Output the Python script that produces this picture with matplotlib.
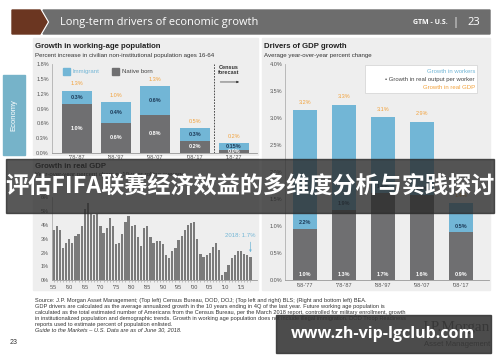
import numpy as np
import matplotlib.pyplot as plt
from matplotlib.patches import Rectangle, Polygon

plt.rcParams['font.family'] = ['Liberation Sans', 'DejaVu Sans']

W, H = 500, 362

# top left: growth in working-age population
popPeriods = ["'78-'87", "'88-'97", "'98-'07", "'08-'17", "'18-'27"]
popNative = [0.99, 0.61, 0.77, 0.24, 0.05]
popImmigrant = [0.27, 0.42, 0.59, 0.26, 0.15]
popNativeLbl = ["1.0%", "0.6%", "0.8%", "0.2%", "0.0%"]
popImmigrantLbl = ["0.3%", "0.4%", "0.6%", "0.3%", "0.15%"]
popTotalLbl = ["1.3%", "1.0%", "1.3%", "0.5%", "0.2%"]

# right: drivers of GDP growth
gdpPeriods = ["'68-'77", "'78-'87", "'88-'97", "'98-'07", "'08-'17"]
gdpOutput = [0.95, 1.30, 1.62, 1.58, 0.89]
gdpWorkers = [2.20, 1.95, 1.40, 1.35, 0.53]
gdpOutputLbl = ["1.0%", "1.3%", "1.7%", "1.6%", "0.9%"]
gdpWorkersLbl = ["2.2%", "1.9%", "1.4%", "1.3%", "0.5%"]
gdpTotalLbl = ["3.2%", "3.3%", "3.1%", "2.9%", "1.4%"]

# bottom left: annual series 1955-2018
years = np.arange(1955, 2019)
growth = [3.6, 3.9, 3.6, 2.3, 2.7, 3.0, 2.7, 3.2, 3.3, 3.9, 5.1, 5.6, 4.8, 4.7, 4.8,
          3.9, 3.4, 3.8, 4.5, 3.9, 2.6, 2.7, 3.3, 4.2, 4.6, 3.9, 4.0, 3.1, 2.5, 3.8,
          3.9, 3.1, 2.7, 2.8, 2.8, 2.6, 1.8, 1.6, 2.1, 2.3, 2.9, 3.2, 3.6, 4.0, 4.1,
          4.2, 3.0, 1.9, 1.7, 1.8, 2.0, 2.4, 2.7, 2.2, 0.4, 0.6, 1.1, 1.6, 1.8, 2.1,
          2.1, 1.9, 1.8, 1.7]
lastLbl = '2018: 1.7%'

blue = '#72b6d6'
grey = '#6f6f71'
orange = '#f2a23c'
navy = '#1d3b58'
panel = '#eeeeee'
tickc = '#555555'


def box(x0, y0, x1, y1):
    return [x0 / W, 1 - y1 / H, (x1 - x0) / W, (y1 - y0) / H]


def style(ax):
    ax.set_facecolor('none')
    for s in ['top', 'right']:
        ax.spines[s].set_visible(False)
    ax.spines['left'].set_color('#b0b0b0')
    ax.spines['bottom'].set_color('#999999')
    ax.spines['left'].set_linewidth(0.6)
    ax.spines['bottom'].set_linewidth(0.6)
    ax.tick_params(labelsize=4, colors=tickc, length=0, pad=2)


fig = plt.figure(figsize=(W / 100, H / 100), dpi=100)
fig.patch.set_facecolor('white')

bg = fig.add_axes([0, 0, 1, 1], zorder=0)
bg.set_xlim(0, W)
bg.set_ylim(H, 0)
bg.axis('off')

# header bar
bg.add_patch(Polygon([(12, 10), (40, 10), (47, 22), (40, 34), (12, 34)], color='#6b3621'))
bg.add_patch(Polygon([(43, 10), (490, 10), (490, 34), (43, 34), (50, 22)], color='#6d6d6d'))
bg.text(60, 22.5, 'Long-term drivers of economic growth', color='white', fontsize=7.9,
        family='Open Sans', va='center')
bg.text(448, 23, 'GTM - U.S.', color='white', fontsize=5, family='Open Sans',
        va='center', ha='right', weight='bold')
bg.text(455, 22.5, '|', color='white', fontsize=8, family='Open Sans', va='center', ha='center')
bg.text(480, 22.5, '23', color='white', fontsize=8, family='Open Sans', va='center', ha='right')

# side tab
bg.add_patch(Rectangle((3, 75), 22, 80, color='#76b3c9'))
bg.text(14, 115, 'Economy', color='white', fontsize=5.5, rotation=90, ha='center', va='center')

# panels
bg.add_patch(Rectangle((33, 38), 225, 117, color=panel))
bg.add_patch(Rectangle((262, 38), 228, 252, color=panel))
bg.add_patch(Rectangle((33, 158), 225, 132, color=panel))

bg.text(35, 47, 'Growth in working-age population', fontsize=5.6, weight='bold',
        color='#222222', va='center')
bg.text(35, 55.5, 'Percent increase in civilian non-institutional population ages 16-64',
        fontsize=4.4, color='#333333', va='center')
bg.text(264, 47, 'Drivers of GDP growth', fontsize=5.6, weight='bold', color='#222222', va='center')
bg.text(264, 55.5, 'Average year-over-year percent change', fontsize=4.4, color='#333333', va='center')
bg.text(35, 166, 'Growth in real GDP', fontsize=5.6, weight='bold', color='#222222', va='center')
bg.text(35, 174.5, 'Year-over-year percent change, 10-year rolling average', fontsize=4.4,
        color='#333333', va='center')

# footer
notes = [
    'Source: J.P. Morgan Asset Management; (Top left) Census Bureau, DOD, DOJ; (Top left and right) BLS; (Right and bottom left) BEA.',
    'GDP drivers are calculated as the average annualized growth in the 10 years ending in 4Q of the last year. Future working age population is',
    'calculated as the total estimated number of Americans from the Census Bureau, per the March 2018 report, controlled for military enrollment, growth',
    'in institutionalized population and demographic trends. Growth in working age population does not include illegal immigration. DOD Troop Readiness',
    'reports used to estimate percent of population enlisted.',
]
for i, line in enumerate(notes):
    bg.text(35, 300.5 + i * 5.9, line, fontsize=4.1, color='#333333', va='center')
bg.text(35, 300.5 + 5 * 5.9, 'Guide to the Markets \u2013 U.S. Data are as of June 30, 2018.',
        fontsize=4.1, color='#333333', va='center', style='italic')
bg.text(10, 342, '23', fontsize=5, color='#333333', va='center')
bg.text(490, 327, 'J.P.Morgan', fontsize=11, family='Liberation Serif', color='#555555',
        va='center', ha='right')
bg.text(490, 344, 'Asset Management', fontsize=5.5, color='#555555', va='center', ha='right')

# chart 1: working-age population
ax1 = fig.add_axes(box(51.7, 64.3, 257, 152.7), zorder=2)
style(ax1)
x1 = np.arange(len(popPeriods))
ax1.bar(x1, popNative, 0.76, color=grey)
ax1.bar(x1, popImmigrant, 0.76, bottom=popNative, color=blue)
for i in x1:
    tot = popNative[i] + popImmigrant[i]
    ax1.text(i, popNative[i] / 2, popNativeLbl[i], color='white', fontsize=4, weight='bold',
             ha='center', va='center')
    ax1.text(i, popNative[i] + popImmigrant[i] / 2, popImmigrantLbl[i], color=navy, fontsize=4,
             weight='bold', ha='center', va='center')
    ax1.text(i, tot + 0.14, popTotalLbl[i], color=orange, fontsize=4, ha='center', va='center')
ax1.set_xlim(-0.636, 4.585)
ax1.set_ylim(0, 1.8)
ax1.set_yticks(np.arange(0, 1.81, 0.3))
ax1.set_yticklabels(['%.1f%%' % v for v in np.arange(0, 1.81, 0.3)])
ax1.set_xticks(x1)
ax1.set_xticklabels(popPeriods)
ax1.axvline(3.5, color='#333333', lw=0.6, ls=(0, (2, 1.5)))
ax1.text(3.87, 1.68, 'Census\nforecast', fontsize=4, weight='bold', color='#333333',
         ha='center', va='center', linespacing=1.1)
ax1.annotate('', xy=(4.2, 1.44), xytext=(3.58, 1.44),
             arrowprops=dict(arrowstyle='-|>', color='#333333', lw=0.5, mutation_scale=3))
ax1.add_patch(Rectangle((-0.34, 1.59), 0.17, 0.135, color=blue))
ax1.text(-0.1, 1.66, 'Immigrant', fontsize=4.3, color=blue, va='center')
ax1.add_patch(Rectangle((0.9, 1.59), 0.17, 0.135, color=grey))
ax1.text(1.14, 1.66, 'Native born', fontsize=4.3, color='#444444', va='center')

# chart 2: drivers of GDP growth
ax2 = fig.add_axes(box(285, 64.3, 489, 280), zorder=2)
style(ax2)
x2 = np.arange(len(gdpPeriods))
ax2.bar(x2, gdpOutput, 0.63, color=grey)
ax2.bar(x2, gdpWorkers, 0.63, bottom=gdpOutput, color=blue)
for i in x2:
    tot = gdpOutput[i] + gdpWorkers[i]
    ax2.text(i, 0.11, gdpOutputLbl[i], color='white', fontsize=4, weight='bold',
             ha='center', va='center')
    ax2.text(i, gdpOutput[i] + 0.11, gdpWorkersLbl[i], color=navy, fontsize=4, weight='bold',
             ha='center', va='center')
    ax2.text(i, tot + 0.15, gdpTotalLbl[i], color=orange, fontsize=4, ha='center', va='center')
ax2.set_xlim(-0.512, 4.72)
ax2.set_ylim(0, 4.0)
ax2.set_yticks(np.arange(0, 4.01, 0.5))
ax2.set_yticklabels(['%.1f%%' % v for v in np.arange(0, 4.01, 0.5)])
ax2.set_xticks(x2)
ax2.set_xticklabels(gdpPeriods)
ax2.add_patch(Rectangle((1.54, 3.475), 2.86, 0.515, facecolor='white', edgecolor='#d8d8d8', lw=0.6))
ax2.text(4.36, 3.87, 'Growth in workers', fontsize=4.3, color=blue, ha='right', va='center')
ax2.text(4.36, 3.72, '\u2022 Growth in real output per worker', fontsize=4.3, color='#444444',
         ha='right', va='center')
ax2.text(4.36, 3.57, 'Growth in real GDP', fontsize=4.3, color=orange, ha='right', va='center')

# chart 3: annual bars
ax3 = fig.add_axes(box(51.7, 197, 257, 280.3), zorder=2)
style(ax3)
ax3.bar(years, growth, 0.72, color='#7b7b7b')
ax3.set_xlim(1954.4, 2020.1)
ax3.set_ylim(0, 6)
ax3.set_yticks(range(0, 7))
ax3.set_yticklabels(['%d%%' % v for v in range(0, 7)])
ax3.set_xticks(np.arange(1955, 2016, 5))
ax3.set_xticklabels(["'%02d" % (y % 100) for y in range(1955, 2016, 5)])
ax3.set_xticks(years, minor=True)
ax3.tick_params(axis='x', which='both', length=1.5, color='#999999', width=0.4)
ax3.text(years[-1] - 3.3, growth[-1] + 1.56, lastLbl, fontsize=4.3, color=blue,
         ha='center', va='center')
ax3.annotate('', xy=(years[-1], growth[-1] + 0.12), xytext=(years[-1], growth[-1] + 1.25),
             arrowprops=dict(arrowstyle='-|>', color=blue, lw=0.5, mutation_scale=3))

# overlays
ov = fig.add_axes([0, 0, 1, 1], zorder=10)
ov.set_xlim(0, W)
ov.set_ylim(H, 0)
ov.axis('off')
ov.add_patch(Rectangle((6, 159), 488, 54, color=(0.16, 0.16, 0.16), alpha=0.78))
ov.text(250, 186.5, '评估FIFA联赛经济效益的多维度分析与实践探讨', color='white', fontsize=16.7,
        weight='bold', ha='center', va='center', family=['Noto Sans CJK SC', 'DejaVu Sans'])
ov.add_patch(Rectangle((276, 315), 215, 37.5, color=(0.2, 0.2, 0.2), alpha=0.88))
ov.text(383, 334, 'www.zh-vip-lgclub.com', color='white', fontsize=11.5, weight='bold',
        ha='center', va='center', family='Open Sans')

fig.savefig('out.png', dpi=100)
